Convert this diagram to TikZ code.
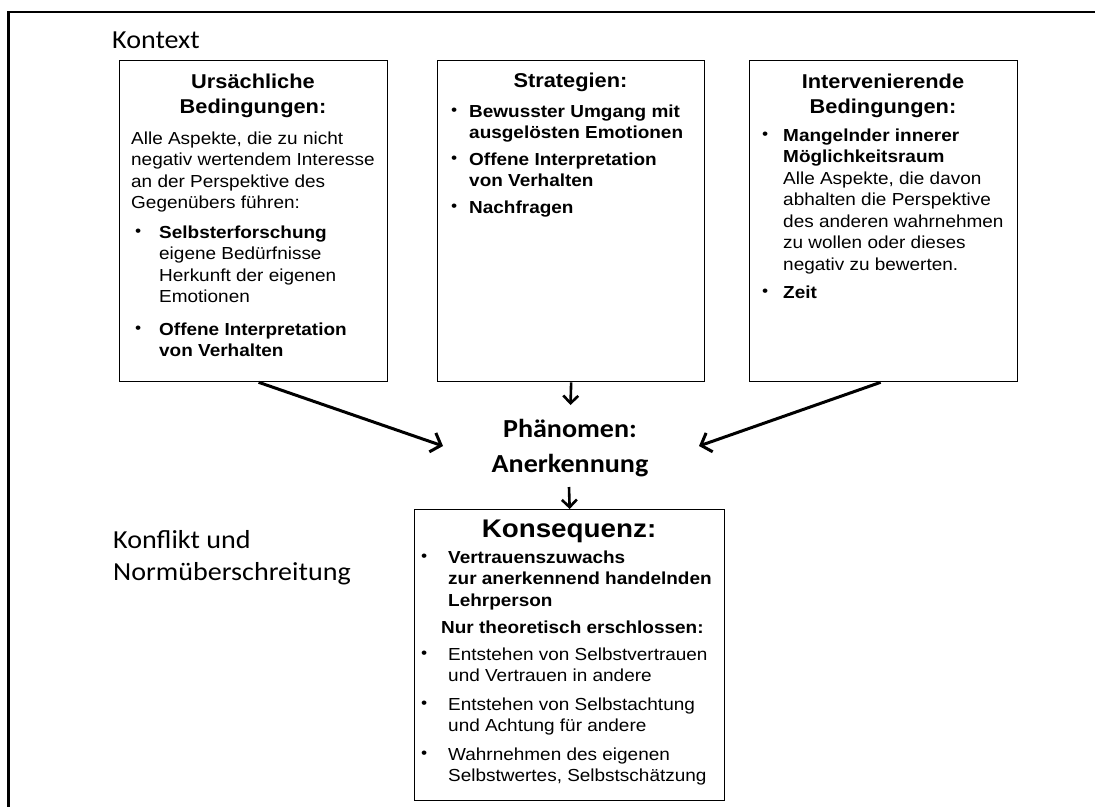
\documentclass[tikz,border=0pt]{standalone}
\usepackage{fontspec}
\setmainfont{Liberation Sans}[FakeStretch=1.09]
\newfontfamily\calfont{Carlito}[FakeStretch=1.08]
\usetikzlibrary{arrows.meta}

% #1 bullet offset, #2 text indent, #3 text
\newcommand\itm[3]{\begin{minipage}[t]{330pt}\hangindent=#2\hangafter=1\noindent\makebox[#2][l]{\hspace*{#1}\raisebox{1.2pt}{\fontsize{16}{16}\selectfont •}}#3\end{minipage}}
\newcommand\plain[1]{\begin{minipage}[t]{330pt}#1\end{minipage}}
\newcommand\ctab[1]{\begin{tabular}[t]{@{}c@{}}#1\end{tabular}}
\newcommand\ltab[1]{\begin{tabular}[t]{@{}l@{}}#1\end{tabular}}

\tikzset{
  box/.style={draw, line width=1.3pt, anchor=north west, inner sep=0pt},
  txt/.style={anchor=base west, inner sep=0pt, font=\fontsize{17.4}{21.5}\selectfont},
  ttl/.style={anchor=base, inner sep=0pt, font=\bfseries\fontsize{20}{25}\selectfont},
  big/.style={anchor=base west, inner sep=0pt, font=\calfont\fontsize{26}{32}\selectfont},
  phen/.style={anchor=base, inner sep=0pt, font=\calfont\bfseries\fontsize{26}{35}\selectfont},
  arr/.style={line width=3pt, -{Straight Barb[length=9pt,width=20pt]}},
  sarr/.style={line width=2.6pt, -{Straight Barb[length=7.5pt,width=15pt]}},
}

\begin{document}
\begin{tikzpicture}[x=1pt,y=-1pt]
\path[use as bounding box, fill=white] (0,0) rectangle (1095,807);

% frame
\draw[line width=2.8pt] (1095,12) -- (8.5,12) -- (8.5,807);

% side labels
\node[big] (kontext) at (112,48) {Kontext};
\node[big] (konflikt) at (113,548) {\ltab{Konflikt und\\Normüberschreitung}};

% box 1
\node[box, minimum width=268pt, minimum height=321pt] (b1) at (119,60) {};
\node[ttl] (b1t) at (253,88) {\ctab{Ursächliche\\Bedingungen:}};
\node[txt] (b1a) at (131,144) {\plain{Alle Aspekte, die zu nicht\\negativ wertendem Interesse\\an der Perspektive des\\Gegenübers führen:}};
\node[txt] (b1i1) at (131,238) {\itm{4pt}{28pt}{\textbf{Selbsterforschung}\\eigene Bedürfnisse\\Herkunft der eigenen\\Emotionen}};
\node[txt] (b1i2) at (131,335) {\itm{4pt}{28pt}{\textbf{Offene Interpretation}\\\textbf{von Verhalten}}};

% box 2
\node[box, minimum width=267pt, minimum height=321pt] (b2) at (437,60) {};
\node[ttl] (b2t) at (570.5,87) {Strategien:};
\node[txt] (b2i1) at (449,117) {\itm{2pt}{20pt}{\textbf{Bewusster Umgang mit}\\\textbf{ausgelösten Emotionen}}};
\node[txt] (b2i2) at (449,165) {\itm{2pt}{20pt}{\textbf{Offene Interpretation}\\\textbf{von Verhalten}}};
\node[txt] (b2i3) at (449,213) {\itm{2pt}{20pt}{\textbf{Nachfragen}}};

% box 3
\node[box, minimum width=268pt, minimum height=321pt] (b3) at (749,60) {};
\node[ttl] (b3t) at (883,88) {\ctab{Intervenierende\\Bedingungen:}};
\node[txt] (b3i1) at (761,141) {\itm{1pt}{22pt}{\textbf{Mangelnder innerer}\\\textbf{Möglichkeitsraum}\\Alle Aspekte, die davon\\abhalten die Perspektive\\des anderen wahrnehmen\\zu wollen oder dieses\\negativ zu bewerten.}};
\node[txt] (b3i2) at (761,298) {\itm{1pt}{22pt}{\textbf{Zeit}}};

% phenomenon
\node[phen] (ph) at (570,437) {\ctab{Phänomen:\\Anerkennung}};
\coordinate (pL) at (443,446);
\coordinate (pR) at (699,446);
\coordinate (pT) at (570.5,405);
\coordinate (pB) at (569,487);

% consequence box
\node[box, minimum width=310pt, minimum height=291pt] (b4) at (414,509) {};
\node[ttl, font=\bfseries\fontsize{25.5}{30}\selectfont] (b4t) at (569,537) {Konsequenz:};
\node[txt] (b4i1) at (421,563) {\itm{0pt}{27pt}{\textbf{Vertrauenszuwachs}\\\textbf{zur anerkennend handelnden}\\\textbf{Lehrperson}}};
\node[txt] (b4n) at (441,633) {\textbf{Nur theoretisch erschlossen:}};
\node[txt] (b4i2) at (421,660) {\itm{0pt}{27pt}{Entstehen von Selbstvertrauen\\und Vertrauen in andere}};
\node[txt] (b4i3) at (421,710) {\itm{0pt}{27pt}{Entstehen von Selbstachtung\\und Achtung für andere}};
\node[txt] (b4i4) at (421,760) {\itm{0pt}{27pt}{Wahrnehmen des eigenen\\Selbstwertes, Selbstschätzung}};

% connectors
\draw[arr] ([xshift=5pt]b1.south) -- (pL);
\draw[arr] ([xshift=-3pt]b3.south) -- (pR);
\draw[sarr] (b2.south) -- (pT);
\draw[sarr] (pB) -- (b4.north);
\end{tikzpicture}
\end{document}
